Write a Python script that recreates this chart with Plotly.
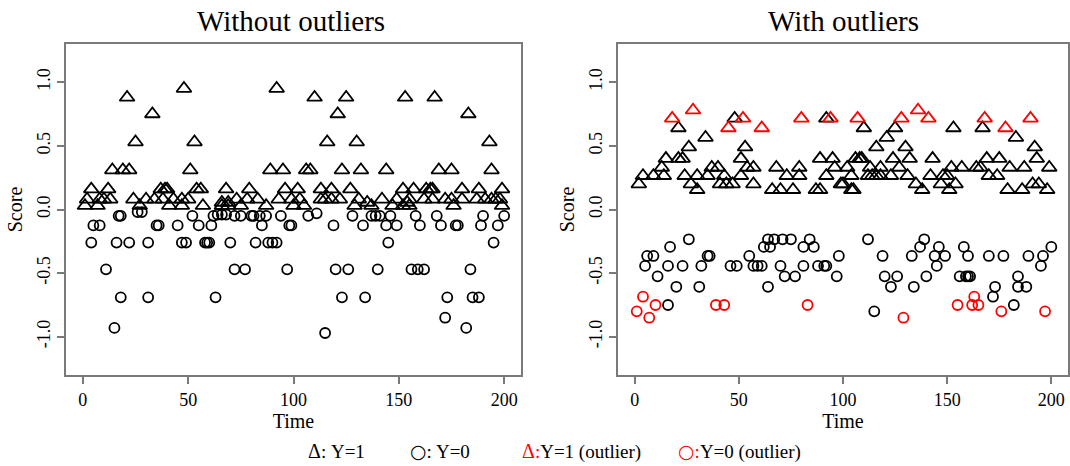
import plotly.graph_objects as go

# ---------------- Left panel: scores without outliers ----------------
left_y1_time = [48, 92,
                21, 110, 125, 153, 167,
                33, 121, 183,
                25, 53, 116, 130, 193,
                14, 19, 22, 51, 89, 95, 106, 108, 123, 132, 144, 169, 175, 194,
                4, 12, 37, 39, 40, 54, 56, 68, 79, 96, 102, 113, 118, 127, 152, 157, 163, 165, 166, 180, 188, 199,
                2, 8, 10, 13, 24, 30, 34, 38, 43, 47, 50, 73, 78, 83, 93, 99, 103, 113, 115, 118, 122, 131,
                142, 149, 155, 162, 166, 172, 175, 180, 187, 191, 194, 196, 198,
                1, 7, 27, 41, 47, 57, 66, 69, 75, 87, 100, 105, 129, 137, 147, 152, 155, 176, 199,
                66, 69, 135, 154]
left_y1_score = [0.95, 0.95,
                 0.88, 0.88, 0.88, 0.88, 0.88,
                 0.75, 0.75, 0.75,
                 0.53, 0.53, 0.53, 0.53, 0.53,
                 0.31, 0.31, 0.31, 0.31, 0.31, 0.31, 0.31, 0.31, 0.31, 0.31, 0.31, 0.31, 0.31, 0.31,
                 0.16, 0.16, 0.16, 0.16, 0.16, 0.16, 0.16, 0.16, 0.16, 0.16, 0.16, 0.16, 0.16, 0.16, 0.16,
                 0.16, 0.16, 0.16, 0.16, 0.16, 0.16, 0.16,
                 0.08, 0.08, 0.08, 0.08, 0.08, 0.08, 0.08, 0.08, 0.08, 0.08, 0.08, 0.08, 0.08, 0.08, 0.08,
                 0.08, 0.08, 0.08, 0.08, 0.08, 0.08, 0.08, 0.08, 0.08, 0.08, 0.08, 0.08, 0.08, 0.08, 0.08,
                 0.08, 0.08, 0.08, 0.08, 0.08,
                 0.03, 0.03, 0.03, 0.03, 0.03, 0.03, 0.03, 0.03, 0.03, 0.03, 0.03, 0.03, 0.03, 0.03, 0.03,
                 0.03, 0.03, 0.03, 0.03,
                 0.055, 0.055, 0.055, 0.055]

left_y0_time = [26, 28,
                17, 18, 52, 62, 64, 66, 68, 72, 75, 80, 81, 84, 87, 94, 107, 111, 128, 137, 139, 141, 146,
                158, 168, 190, 200,
                5, 8, 35, 36, 45, 55, 61, 85, 98, 99, 119, 133, 144, 149, 160, 170, 177, 178, 189, 197,
                4, 16, 22, 31, 47, 49, 58, 59, 60, 70, 82, 88, 90, 92, 145, 195,
                11, 72, 77, 97, 120, 126, 140, 156, 159, 162, 184,
                18, 31, 63, 123, 134, 173, 185, 188,
                172, 15, 182, 115]
left_y0_score = [-0.02, -0.02,
                 -0.05, -0.05, -0.05, -0.05, -0.04, -0.04, -0.04, -0.05, -0.05, -0.05, -0.05, -0.05,
                 -0.05, -0.05, -0.05, -0.03, -0.05, -0.05, -0.05, -0.05, -0.05, -0.05, -0.05, -0.05,
                 -0.05,
                 -0.125, -0.125, -0.125, -0.125, -0.125, -0.125, -0.125, -0.125, -0.125, -0.125,
                 -0.125, -0.125, -0.125, -0.125, -0.125, -0.125, -0.125, -0.125, -0.125, -0.125,
                 -0.26, -0.26, -0.26, -0.26, -0.26, -0.26, -0.26, -0.26, -0.26, -0.26, -0.26, -0.26,
                 -0.26, -0.26, -0.26, -0.26,
                 -0.47, -0.47, -0.47, -0.47, -0.47, -0.47, -0.47, -0.47, -0.47, -0.47, -0.47,
                 -0.69, -0.69, -0.69, -0.69, -0.69, -0.69, -0.69, -0.69,
                 -0.85, -0.93, -0.93, -0.97]

# ---------------- Right panel: scores with outliers ----------------
right_y1_time = [2, 27, 41, 44, 47, 57, 99, 100, 135, 147, 154, 191, 194,
                 4, 9, 14, 24, 30, 35, 43, 51, 73, 79, 92, 104, 112, 114, 116, 118, 123, 131, 142, 148,
                 150, 170, 174,
                 13, 37, 40, 54, 57, 68, 79, 96, 102, 113, 118, 127, 152, 157, 164, 166, 180, 187, 199,
                 15, 21, 23, 51, 89, 95, 106, 108, 109, 124, 132, 143, 169, 175, 193,
                 26, 53, 116, 130, 192,
                 34, 121, 183,
                 21, 110, 125, 153, 167,
                 48, 92,
                 30, 66, 70, 76, 87, 89, 104, 105, 138, 151, 179, 186, 198]
right_y1_score = [0.2, 0.2, 0.2, 0.2, 0.2, 0.2, 0.2, 0.2, 0.2, 0.2, 0.2, 0.2, 0.2,
                  0.265, 0.265, 0.265, 0.265, 0.265, 0.265, 0.265, 0.265, 0.265, 0.265, 0.265, 0.265,
                  0.265, 0.265, 0.265, 0.265, 0.265, 0.265, 0.265, 0.265, 0.265, 0.265, 0.265,
                  0.33, 0.33, 0.33, 0.33, 0.33, 0.33, 0.33, 0.33, 0.33, 0.33, 0.33, 0.33, 0.33, 0.33,
                  0.33, 0.33, 0.33, 0.33, 0.33,
                  0.40, 0.40, 0.40, 0.40, 0.40, 0.40, 0.40, 0.40, 0.40, 0.40, 0.40, 0.40, 0.40, 0.40,
                  0.40,
                  0.49, 0.49, 0.49, 0.49, 0.49,
                  0.565, 0.565, 0.565,
                  0.64, 0.64, 0.64, 0.64, 0.64,
                  0.716, 0.716,
                  0.155, 0.155, 0.155, 0.155, 0.155, 0.155, 0.155, 0.155, 0.155, 0.155, 0.155, 0.155,
                  0.155]

right_y1_out_time = [18, 28, 45, 52, 61, 80, 94, 107, 128, 136, 141, 168, 178, 190]
right_y1_out_score = [0.716, 0.78, 0.64, 0.716, 0.64, 0.716, 0.716, 0.716, 0.716, 0.78, 0.716,
                      0.716, 0.64, 0.716]

right_y0_time = [26, 64, 67, 71, 75, 84, 112, 139,
                 17, 62, 65, 81, 86, 137, 146, 158, 200,
                 6, 9, 35, 36, 55, 98, 119, 133, 144, 149, 160, 170, 177, 189, 196,
                 5, 16, 23, 32, 46, 49, 57, 59, 61, 70, 81, 88, 91, 92, 145, 195,
                 11, 72, 77, 97, 120, 126, 140, 156, 159, 160, 161, 184,
                 20, 31, 64, 123, 134, 173, 184, 188,
                 172, 16, 182, 115]
right_y0_score = [-0.234, -0.234, -0.234, -0.234, -0.234, -0.234, -0.234, -0.234,
                  -0.294, -0.294, -0.294, -0.294, -0.294, -0.294, -0.294, -0.294, -0.294,
                  -0.365, -0.365, -0.365, -0.365, -0.365, -0.365, -0.365, -0.365, -0.365, -0.365,
                  -0.365, -0.365, -0.365, -0.365, -0.365,
                  -0.443, -0.443, -0.443, -0.443, -0.443, -0.443, -0.443, -0.443, -0.443, -0.443,
                  -0.443, -0.443, -0.443, -0.443, -0.443, -0.443,
                  -0.525, -0.525, -0.525, -0.525, -0.525, -0.525, -0.525, -0.525, -0.525, -0.525,
                  -0.525, -0.525,
                  -0.607, -0.607, -0.607, -0.607, -0.607, -0.607, -0.607, -0.607,
                  -0.685, -0.75, -0.75, -0.80]

right_y0_out_time = [1, 4, 7, 10, 39, 43, 83, 129, 155, 162, 163, 165, 176, 197]
right_y0_out_score = [-0.80, -0.685, -0.85, -0.75, -0.75, -0.75, -0.75, -0.85, -0.75, -0.75,
                      -0.685, -0.75, -0.80, -0.80]

x_ticks = [0, 50, 100, 150, 200]
y_ticks = [-1.0, -0.5, 0.0, 0.5, 1.0]
y_tick_text = ["-1.0", "-0.5", "0.0", "0.5", "1.0"]

panel_titles = ["Without outliers", "With outliers"]
legend_items = [
    ("\u0394", "", "black", ": Y=1"),
    ("\u25cb", "", "black", ": Y=0"),
    ("\u0394", ":", "red", "Y=1 (outlier)"),
    ("\u25cb", ":", "red", "Y=0 (outlier)"),
]

SERIF = "Liberation Serif"
TRI = dict(symbol="triangle-up-open", size=13, line=dict(width=1.8))
CIR = dict(symbol="circle-open", size=10, line=dict(width=1.8))


def pts(t, s, axis, marker, color):
    m = dict(marker)
    m["color"] = color
    m["line"] = dict(width=marker["line"]["width"], color=color)
    return go.Scatter(x=t, y=s, mode="markers", marker=m, xaxis="x" + axis,
                      yaxis="y" + axis, showlegend=False, hoverinfo="x+y")


fig = go.Figure()
fig.add_trace(pts(left_y0_time, left_y0_score, "", CIR, "black"))
fig.add_trace(pts(left_y1_time, left_y1_score, "", TRI, "black"))
fig.add_trace(pts(right_y0_time, right_y0_score, "2", CIR, "black"))
fig.add_trace(pts(right_y1_time, right_y1_score, "2", TRI, "black"))
fig.add_trace(pts(right_y0_out_time, right_y0_out_score, "2", CIR, "red"))
fig.add_trace(pts(right_y1_out_time, right_y1_out_score, "2", TRI, "red"))

W, H = 1070, 466
frame = dict(showline=True, linecolor="#7a7a7a", linewidth=2, mirror=True,
             showgrid=False, zeroline=False, ticks="outside", ticklen=7,
             tickcolor="#7a7a7a", tickwidth=1.5,
             tickfont=dict(family=SERIF, size=18, color="black"))

xax = dict(frame, range=[-8, 208], tickvals=x_ticks,
           title=dict(text="Time", font=dict(family=SERIF, size=20, color="black"), standoff=4))
yax = dict(frame, range=[-1.3, 1.3], tickvals=y_ticks, ticktext=y_tick_text, tickangle=-90,
           title=dict(text="Score", font=dict(family=SERIF, size=20, color="black"), standoff=6))

fig.update_layout(
    width=W, height=H,
    margin=dict(l=0, r=0, t=0, b=0),
    paper_bgcolor="white", plot_bgcolor="white",
    xaxis=dict(xax, domain=[66 / W, 521 / W], anchor="y"),
    yaxis=dict(yax, domain=[91 / H, 422 / H], anchor="x"),
    xaxis2=dict(xax, domain=[618 / W, 1068 / W], anchor="y2"),
    yaxis2=dict(yax, domain=[91 / H, 422 / H], anchor="x2"),
)

# panel titles
for title, cx in zip(panel_titles, [291, 843]):
    fig.add_annotation(text=title, x=cx / W, y=1 - 21 / H, xref="paper", yref="paper",
                       showarrow=False, xanchor="center", yanchor="middle",
                       font=dict(family=SERIF, size=29, color="black"))

# legend row drawn as text; the circle glyph comes from DejaVu Sans
for (sym, colon, col, label), cx in zip(legend_items, [336, 440, 581, 739]):
    if sym == "\u25cb":
        sym_html = (f"<span style='color:{col};font-family:DejaVu Sans;font-size:19px'>"
                    f"{sym}</span>")
    else:
        sym_html = f"<span style='color:{col};font-size:20px'>{sym}</span>"
    fig.add_annotation(
        text=f"{sym_html}<span style='color:{col}'>{colon}</span>{label}",
        x=cx / W, y=1 - 451 / H, xref="paper", yref="paper", showarrow=False,
        xanchor="center", yanchor="middle",
        font=dict(family=SERIF, size=19, color="black"))

fig.write_html("out.html")
